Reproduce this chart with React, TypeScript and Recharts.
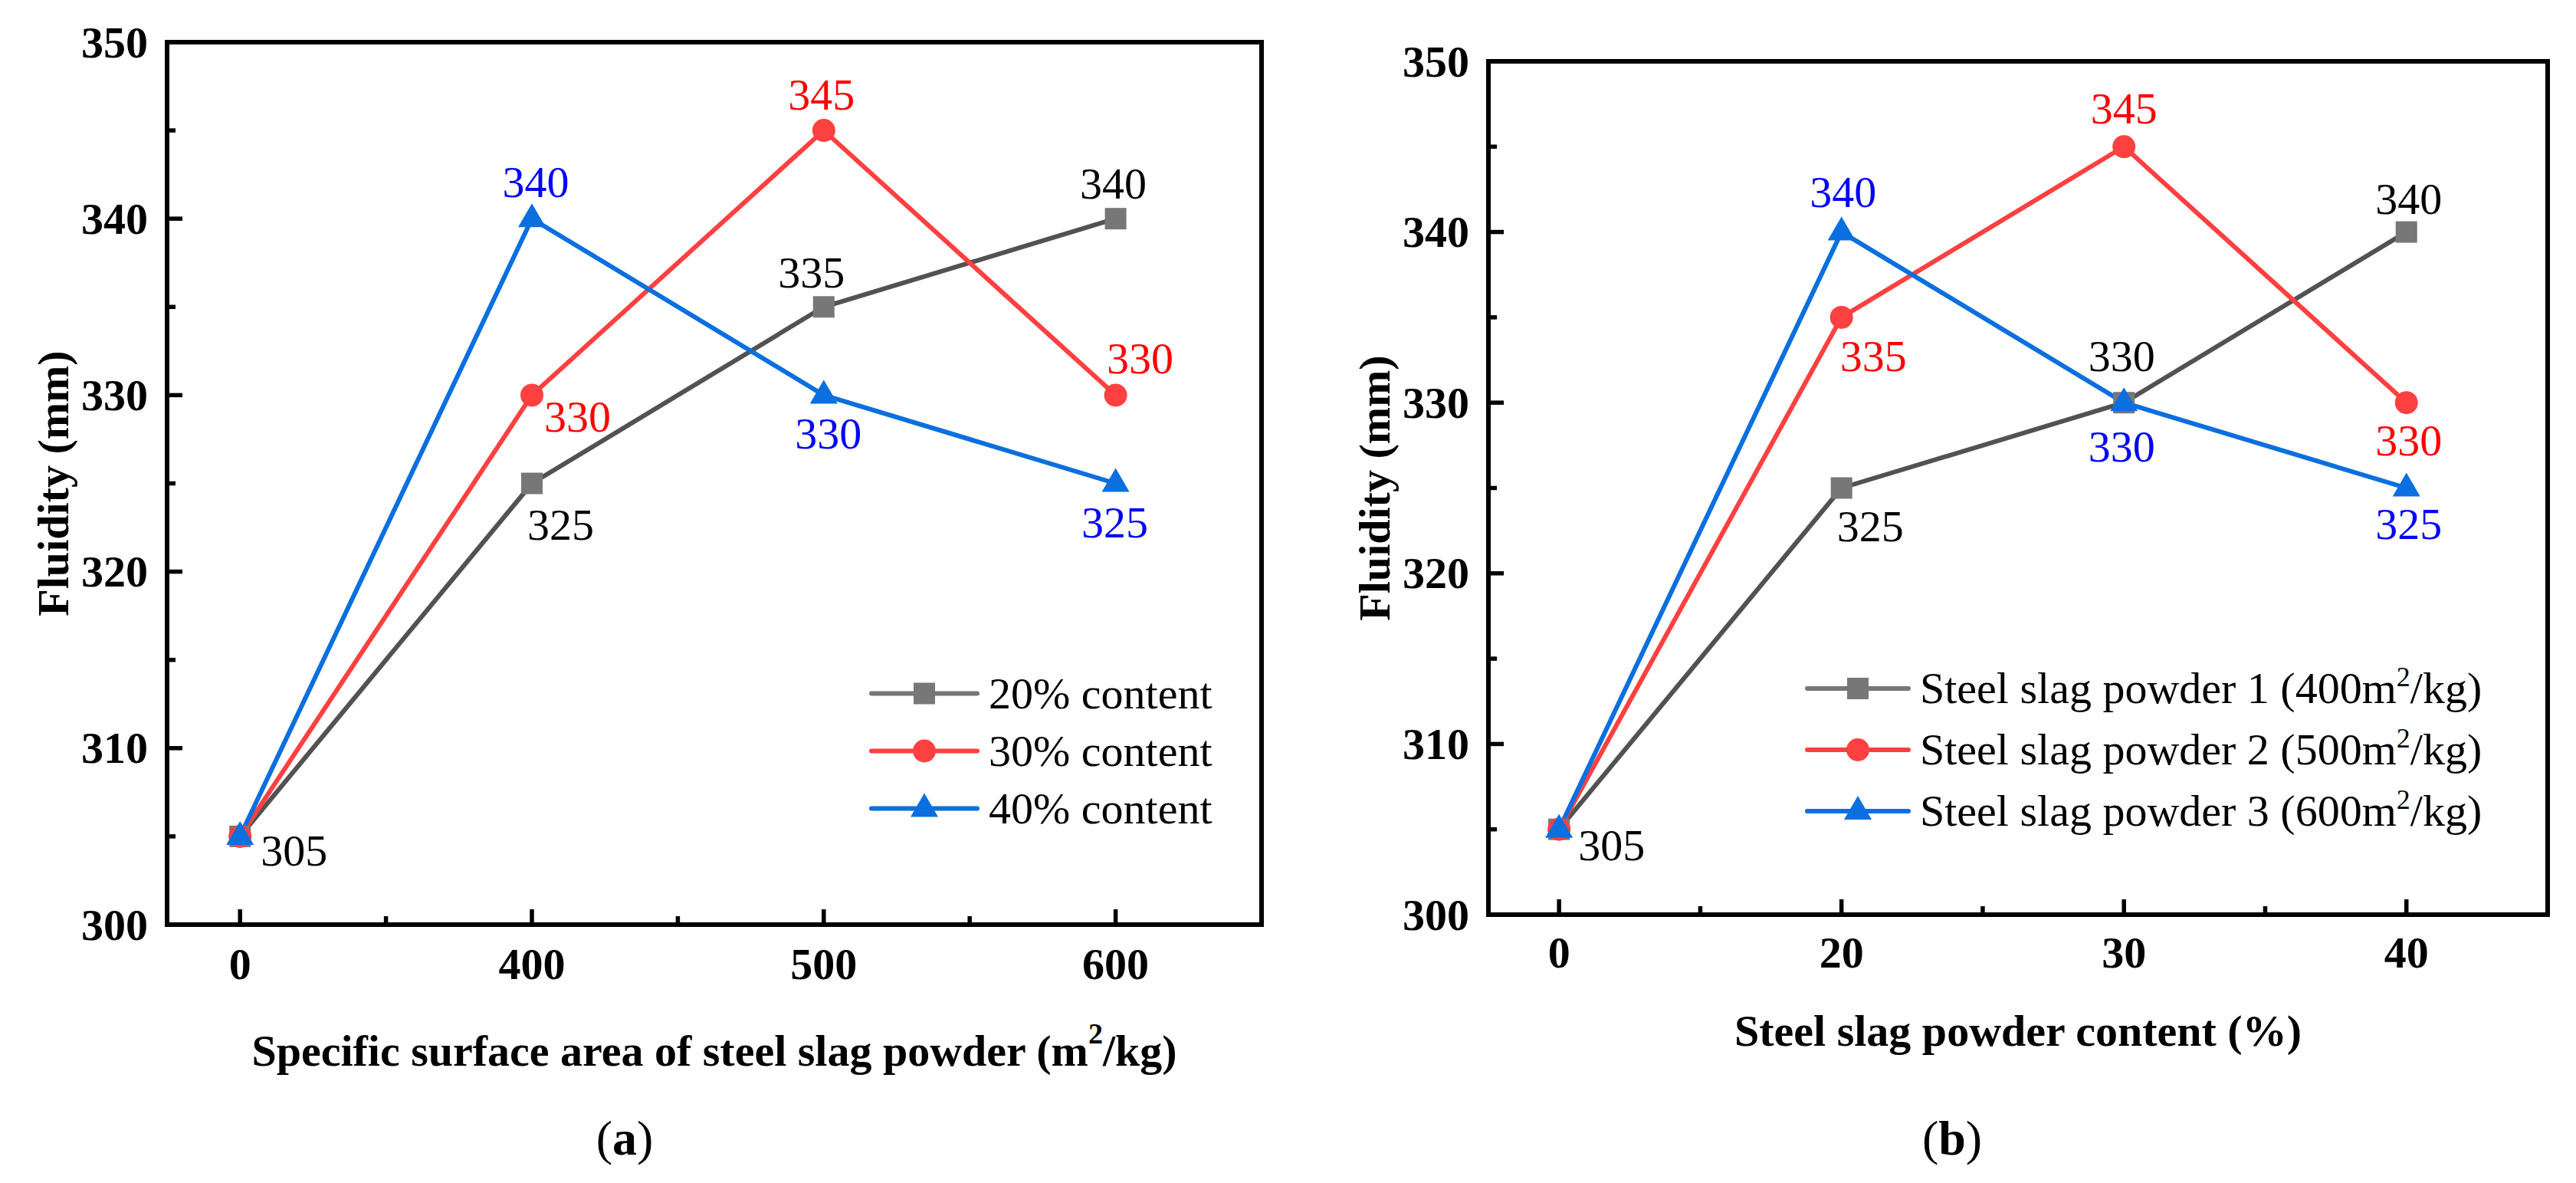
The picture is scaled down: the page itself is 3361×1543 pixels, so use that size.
import React from 'react';
import { LineChart, Line, XAxis, YAxis, ReferenceLine, LabelList, Legend } from 'recharts';

const FONT = '"Liberation Serif", "Times New Roman", Times, serif';

// (a) specific surface area of steel slag powder
const AREA_CATS = ['0', '400', '500', '600'];
const CONTENT_20 = [305, 325, 335, 340];
const CONTENT_30 = [305, 330, 345, 330];
const CONTENT_40 = [305, 340, 330, 325];

// (b) steel slag powder content
const CONTENT_CATS = ['0', '20', '30', '40'];
const POWDER_1 = [305, 325, 330, 340];
const POWDER_2 = [305, 335, 345, 330];
const POWDER_3 = [305, 340, 330, 325];

const Y_TICKS = [300, 305, 310, 315, 320, 325, 330, 335, 340, 345, 350];
const X_TICKS = [0, 0.5, 1, 1.5, 2, 2.5, 3];

// label placement per point: [anchor, dx, dy(baseline)] or null
type Lbl = ['start' | 'middle' | 'end', number, number] | null;
const LBL_A_20: Lbl[] = [['start', 27, 38], ['start', -6, 73], ['middle', -16, -25], ['middle', -3, -26]];
const LBL_A_30: Lbl[] = [null, ['start', 16, 48], ['middle', -3, -27], ['middle', 32, -28]];
const LBL_A_40: Lbl[] = [null, ['middle', 5, -28], ['middle', 6, 70], ['middle', -1, 70]];
const LBL_B_1: Lbl[] = [['start', 25, 40], ['start', -6, 69], ['middle', -3, -41], ['middle', 3, -24]];
const LBL_B_2: Lbl[] = [null, ['start', -2, 70], ['middle', 0, -30], ['middle', 3, 69]];
const LBL_B_3: Lbl[] = [null, ['middle', 2, -33], ['middle', -3, 77], ['middle', 3, 66]];

const GRAY = { line: '#525252', mark: '#777777', text: '#000000' };
const RED = { line: '#FF4040', mark: '#FF4040', text: '#FF0000' };
const BLUE = { line: '#0A6FDF', mark: '#0A6FDF', text: '#0000FF' };

type Shape = 'square' | 'circle' | 'triangle';
interface Series {
  key: string;
  name: string;
  values: number[];
  color: { line: string; mark: string; text: string };
  shape: Shape;
  labels: Lbl[];
}

function Marker({ cx, cy, shape, fill }: { cx: number; cy: number; shape: Shape; fill: string }) {
  if (cx == null || cy == null) return null;
  if (shape === 'square') return <rect x={cx - 14} y={cy - 14} width={28} height={28} fill={fill} />;
  if (shape === 'circle') return <circle cx={cx} cy={cy} r={15} fill={fill} />;
  return <polygon points={`${cx},${cy - 20} ${cx + 18},${cy + 11} ${cx - 18},${cy + 11}`} fill={fill} />;
}

// splits "m²" into a superscript for svg text
function SvgRich({ text, supSize, supDy }: { text: string; supSize: number; supDy: number }) {
  const parts = text.split('²');
  if (parts.length === 1) return <>{text}</>;
  return (
    <>
      {parts[0]}
      <tspan dy={-supDy} fontSize={supSize}>2</tspan>
      <tspan dy={supDy}>{parts[1]}</tspan>
    </>
  );
}

function HtmlRich({ text }: { text: string }) {
  const parts = text.split('²');
  if (parts.length === 1) return <>{text}</>;
  return (
    <>
      {parts[0]}
      <sup style={{ fontSize: '0.62em', lineHeight: 0, verticalAlign: '0.62em' }}>2</sup>
      {parts[1]}
    </>
  );
}

function XTick(props: any) {
  const { x, y, payload, cats, labelDy } = props;
  const v = payload.value;
  const major = Math.abs(v - Math.round(v)) < 1e-6;
  return (
    <g>
      <line x1={x} x2={x} y1={y} y2={y - (major ? 20 : 11)} stroke="#000" strokeWidth={5.5} />
      {major && (
        <text x={x} y={y + labelDy} textAnchor="middle" dominantBaseline="central"
          fontFamily={FONT} fontWeight="bold" fontSize={58} fill="#000">
          {cats[Math.round(v)]}
        </text>
      )}
    </g>
  );
}

function YTick(props: any) {
  const { x, y, payload } = props;
  const v = payload.value;
  const major = v % 10 === 0;
  return (
    <g>
      <line x1={x} x2={x + (major ? 20 : 11)} y1={y} y2={y} stroke="#000" strokeWidth={5.5} />
      {major && (
        <text x={x - 25} y={y} textAnchor="end" dominantBaseline="central"
          fontFamily={FONT} fontWeight="bold" fontSize={58} fill="#000">
          {v}
        </text>
      )}
    </g>
  );
}

function DataLabel(props: any) {
  const { index, value, layout, color } = props;
  const spec = layout[index];
  if (!spec) return null;
  const x = props.x ?? props.viewBox?.x;
  const y = props.y ?? props.viewBox?.y;
  const [anchor, dx, dy] = spec;
  return (
    <text x={x + dx} y={y + dy} textAnchor={anchor} fontFamily={FONT} fontSize={58} fill={color}>
      {value}
    </text>
  );
}

interface PanelCfg {
  width: number;
  height: number;
  margin: { top: number; right: number; bottom: number; left: number };
  cats: string[];
  series: Series[];
  xTitle: string;
  xTitleDy: number;
  xTickDy: number;
  legend: { left: number; top: number; rowH: number; lineW: number; gap: number };
}

function LegendBox({ cfg }: { cfg: PanelCfg }) {
  const { rowH, lineW, gap } = cfg.legend;
  return (
    <div style={{ fontFamily: FONT, fontSize: 58, color: '#000', lineHeight: 1 }}>
      {cfg.series.map((s) => (
        <div key={s.key} style={{ height: rowH, display: 'flex', alignItems: 'center', whiteSpace: 'nowrap' }}>
          <svg width={lineW} height={rowH} style={{ display: 'block' }}>
            <line x1={3} x2={lineW - 3} y1={rowH / 2} y2={rowH / 2}
              stroke={s.shape === 'square' ? s.color.mark : s.color.line} strokeWidth={6} strokeLinecap="round" />
            <Marker cx={lineW / 2} cy={rowH / 2} shape={s.shape} fill={s.color.mark} />
          </svg>
          <span style={{ marginLeft: gap }}>
            <HtmlRich text={s.name} />
          </span>
        </div>
      ))}
    </div>
  );
}

function Panel({ cfg }: { cfg: PanelCfg }) {
  const data = cfg.cats.map((c, i) => {
    const row: Record<string, number | string> = { i, cat: c };
    cfg.series.forEach((s) => { row[s.key] = s.values[i]; });
    return row;
  });
  const axisLine = { stroke: '#000', strokeWidth: 6, strokeLinecap: 'square' as const };

  return (
    <LineChart width={cfg.width} height={cfg.height} data={data} margin={cfg.margin}>
      <XAxis
        type="number"
        dataKey="i"
        domain={[-0.25, 3.5]}
        ticks={X_TICKS}
        interval={0}
        height={1}
        tickSize={0}
        tickMargin={0}
        tickLine={false}
        axisLine={axisLine}
        tick={(p: any) => <XTick {...p} cats={cfg.cats} labelDy={cfg.xTickDy} />}
        label={{
          content: (p: any) => {
            const vb = p.viewBox;
            return (
              <text x={vb.x + vb.width / 2} y={vb.y + cfg.xTitleDy} textAnchor="middle" dominantBaseline="central"
                fontFamily={FONT} fontWeight="bold" fontSize={58} fill="#000">
                <SvgRich text={cfg.xTitle} supSize={38} supDy={22} />
              </text>
            );
          },
        }}
      />
      <YAxis
        type="number"
        domain={[300, 350]}
        ticks={Y_TICKS}
        interval={0}
        width={1}
        tickSize={0}
        tickMargin={0}
        tickLine={false}
        axisLine={axisLine}
        tick={(p: any) => <YTick {...p} />}
        label={{
          content: (p: any) => {
            const vb = p.viewBox;
            const cx = vb.x + vb.width - 149;
            const cy = vb.y + vb.height / 2;
            return (
              <text x={cx} y={cy} transform={`rotate(-90 ${cx} ${cy})`} textAnchor="middle" dominantBaseline="central"
                fontFamily={FONT} fontWeight="bold" fontSize={58} fill="#000">
                Fluidity (mm)
              </text>
            );
          },
        }}
      />
      <ReferenceLine y={350} stroke="#000" strokeWidth={6} strokeLinecap="square" />
      <ReferenceLine x={3.5} stroke="#000" strokeWidth={6} strokeLinecap="square" />
      <Legend
        layout="horizontal"
        verticalAlign="middle"
        align="center"
        wrapperStyle={{ left: cfg.legend.left, top: cfg.legend.top, width: 'auto', height: 'auto' }}
        content={() => <LegendBox cfg={cfg} />}
      />
      {cfg.series.map((s) => (
        <Line
          key={s.key}
          dataKey={s.key}
          name={s.name}
          type="linear"
          stroke={s.color.line}
          strokeWidth={6}
          strokeLinejoin="round"
          isAnimationActive={false}
          activeDot={false}
          dot={(p: any) => <Marker key={`${s.key}-${p.index}`} cx={p.cx} cy={p.cy} shape={s.shape} fill={s.color.mark} />}
        >
          <LabelList
            dataKey={s.key}
            content={(p: any) => <DataLabel {...p} layout={s.labels} color={s.color.text} />}
          />
        </Line>
      ))}
    </LineChart>
  );
}

// axis widths of 1px are taken from the margins so the frame lands at 218..1646 / 55..1206
const PANEL_A: PanelCfg = {
  width: 1680,
  height: 1543,
  margin: { top: 55, right: 34, bottom: 336, left: 217 },
  cats: AREA_CATS,
  series: [
    { key: 'c20', name: '20% content', values: CONTENT_20, color: GRAY, shape: 'square', labels: LBL_A_20 },
    { key: 'c30', name: '30% content', values: CONTENT_30, color: RED, shape: 'circle', labels: LBL_A_30 },
    { key: 'c40', name: '40% content', values: CONTENT_40, color: BLUE, shape: 'triangle', labels: LBL_A_40 },
  ],
  xTitle: 'Specific surface area of steel slag powder (m²/kg)',
  xTitleDy: 164,
  xTickDy: 51,
  legend: { left: 1134, top: 867, rowH: 75, lineW: 144, gap: 12 },
};

const PANEL_B: PanelCfg = {
  width: 1681,
  height: 1543,
  margin: { top: 80, right: 37, bottom: 349, left: 261 },
  cats: CONTENT_CATS,
  series: [
    { key: 'p1', name: 'Steel slag powder 1 (400m²/kg)', values: POWDER_1, color: GRAY, shape: 'square', labels: LBL_B_1 },
    { key: 'p2', name: 'Steel slag powder 2 (500m²/kg)', values: POWDER_2, color: RED, shape: 'circle', labels: LBL_B_2 },
    { key: 'p3', name: 'Steel slag powder 3 (600m²/kg)', values: POWDER_3, color: BLUE, shape: 'triangle', labels: LBL_B_3 },
  ],
  xTitle: 'Steel slag powder content (%)',
  xTitleDy: 151,
  xTickDy: 49,
  legend: { left: 675, top: 858, rowH: 80, lineW: 138, gap: 12 },
};

function Caption({ letter, cx }: { letter: string; cx: number }) {
  return (
    <div style={{
      position: 'absolute', left: cx - 100, top: 1450, width: 200, textAlign: 'center',
      fontFamily: FONT, fontSize: 64, lineHeight: '70px', color: '#000',
    }}>
      (<b>{letter}</b>)
    </div>
  );
}

export default function App() {
  return (
    <div style={{ position: 'absolute', left: 0, top: 0, width: 3361, height: 1543, background: '#fff', overflow: 'hidden' }}>
      <div style={{ position: 'absolute', left: 0, top: 0 }}>
        <Panel cfg={PANEL_A} />
      </div>
      <div style={{ position: 'absolute', left: 1680, top: 0 }}>
        <Panel cfg={PANEL_B} />
      </div>
      <Caption letter="a" cx={815} />
      <Caption letter="b" cx={2547} />
    </div>
  );
}
